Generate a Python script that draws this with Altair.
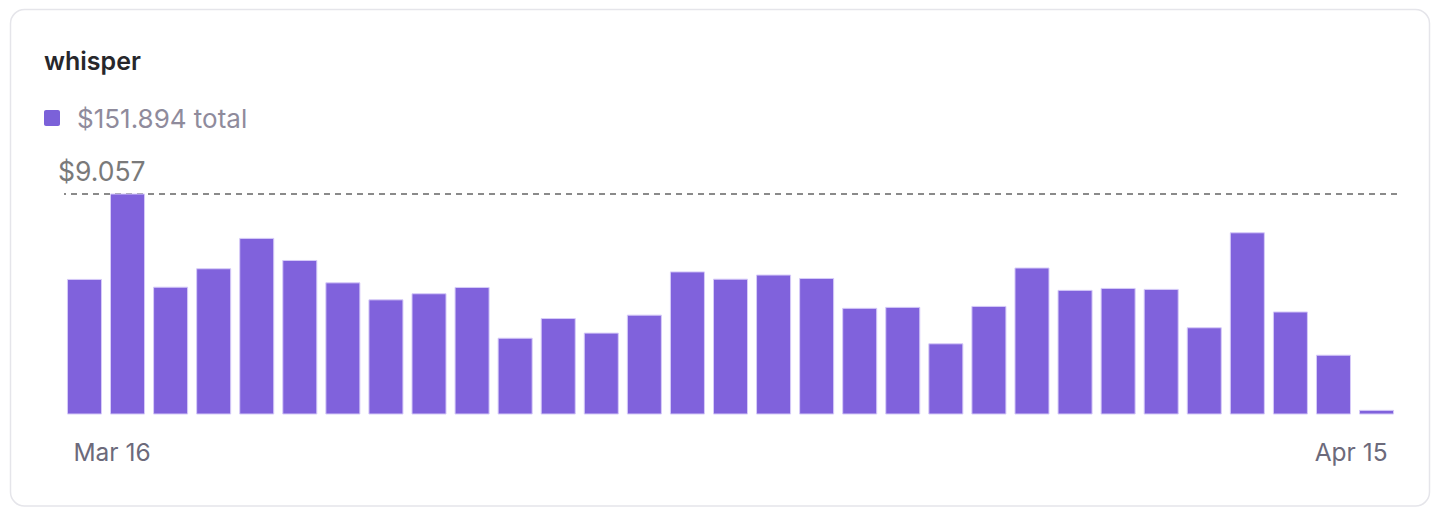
import altair as alt
import pandas as pd

# ---- data ----
dates = ["Mar 16", "Mar 17", "Mar 18", "Mar 19", "Mar 20", "Mar 21", "Mar 22", "Mar 23",
         "Mar 24", "Mar 25", "Mar 26", "Mar 27", "Mar 28", "Mar 29", "Mar 30", "Mar 31",
         "Apr 1", "Apr 2", "Apr 3", "Apr 4", "Apr 5", "Apr 6", "Apr 7", "Apr 8",
         "Apr 9", "Apr 10", "Apr 11", "Apr 12", "Apr 13", "Apr 14", "Apr 15"]
costs = [5.54, 9.057, 5.22, 5.98, 7.23, 6.32, 5.40, 4.70,
         4.95, 5.21, 3.12, 3.93, 3.33, 4.07, 5.85, 5.55,
         5.72, 5.58, 4.35, 4.39, 2.89, 4.43, 6.01, 5.09,
         5.17, 5.13, 3.55, 7.46, 4.20, 2.42, 0.15]
title_text = "whisper"
total_label = "$151.894 total"
max_value = 9.057
max_label = "$9.057"
first_label = "Mar 16"
last_label = "Apr 15"

df = pd.DataFrame({"date": dates, "cost": costs})
maxdf = pd.DataFrame({"cost": [max_value], "label": [max_label]})
onedf = pd.DataFrame({"a": [1]})

FONT = "Inter"
PURPLE = "#8062DC"

xscale = alt.Scale(domain=dates, paddingInner=0.21, paddingOuter=0.08)
yscale = alt.Scale(domain=[0, max_value], nice=False, zero=True)

card = alt.Chart(onedf).mark_rect(
    fill="white", stroke="#e5e5ea", strokeWidth=1.5, cornerRadius=14
).encode(
    x=alt.value(-53.5), x2=alt.value(1365.5), y=alt.value(-184.5), y2=alt.value(312)
)

title = alt.Chart(onedf).mark_text(
    text=title_text, align="left", baseline="alphabetic", font=FONT,
    fontSize=25, fontWeight=600, color="#27272b"
).encode(x=alt.value(-20), y=alt.value(-124))

legend_sq = alt.Chart(onedf).mark_rect(color="#7B61D9", cornerRadius=2).encode(
    x=alt.value(-20), x2=alt.value(-4), y=alt.value(-84), y2=alt.value(-68)
)

legend_txt = alt.Chart(onedf).mark_text(
    text=total_label, align="left", baseline="alphabetic", font=FONT,
    fontSize=26, color="#8f8b9c"
).encode(x=alt.value(13), y=alt.value(-66))

bars = alt.Chart(df).mark_bar(
    color=PURPLE, stroke="#d6cbf8", strokeWidth=1
).encode(
    x=alt.X("date:N", scale=xscale, axis=None, sort=None),
    y=alt.Y("cost:Q", scale=yscale, axis=None),
)

maxline = alt.Chart(maxdf).mark_rule(
    color="#8a8a8a", strokeDash=[6, 5], strokeWidth=2
).encode(y=alt.Y("cost:Q", scale=yscale, axis=None))

maxtxt = alt.Chart(maxdf).mark_text(
    align="left", baseline="alphabetic", font=FONT,
    fontSize=26.5, color="#7a7a7a", dy=-13
).encode(x=alt.value(-6), y=alt.Y("cost:Q", scale=yscale, axis=None), text="label:N")

first_txt = alt.Chart(pd.DataFrame({"date": [dates[0]], "label": [first_label]})).mark_text(
    align="left", baseline="alphabetic", font=FONT, fontSize=24.5, color="#6c6a7b", dx=6
).encode(
    x=alt.X("date:N", scale=xscale, axis=None, bandPosition=0),
    y=alt.value(266.7), text="label:N"
)

last_txt = alt.Chart(pd.DataFrame({"date": [dates[-1]], "label": [last_label]})).mark_text(
    align="right", baseline="alphabetic", font=FONT, fontSize=24.5, color="#6c6a7b", dx=-6
).encode(
    x=alt.X("date:N", scale=xscale, axis=None, bandPosition=1),
    y=alt.value(266.7), text="label:N"
)

chart = alt.layer(
    card, title, legend_sq, legend_txt, maxline, bars, maxtxt, first_txt, last_txt
).properties(
    width=1333, height=220,
    autosize=alt.AutoSizeParams(type="none"),
    padding={"left": 56, "top": 186, "right": 37, "bottom": 94},
).configure_view(strokeWidth=0)

chart.save("out.html", embed_options={"renderer": "svg", "actions": False})
